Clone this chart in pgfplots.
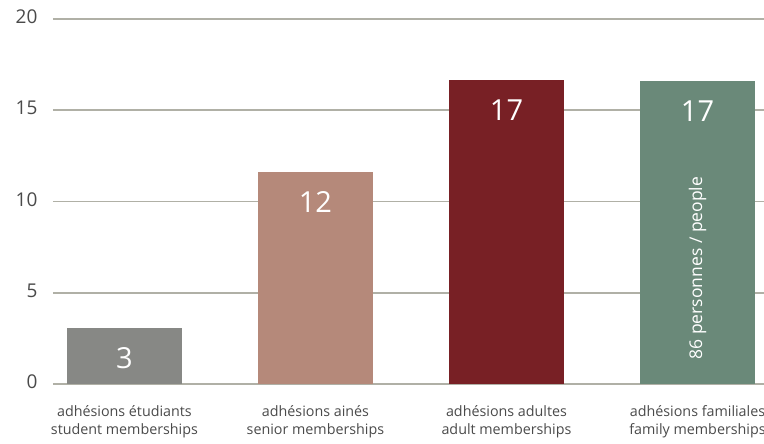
\documentclass[border=0pt]{standalone}
\usepackage{pgfplots}
\pgfplotsset{compat=1.18}
\usepackage{fontspec}
\setmainfont{Open Sans}
\definecolor{grid}{HTML}{B0B0A6}
\definecolor{tick}{HTML}{4A4A4A}
\definecolor{cA}{HTML}{878885}
\definecolor{cB}{HTML}{B5897A}
\definecolor{cC}{HTML}{782025}
\definecolor{cD}{HTML}{6A8979}
\begin{document}
\begin{tikzpicture}
\useasboundingbox (-53pt,-60pt) rectangle (711pt,384pt);
\begin{axis}[
  at={(0,0)}, anchor=south west,
  scale only axis, width=711pt, height=365pt,
  xmin=-0.374, xmax=3.348, ymin=0, ymax=20,
  axis line style={draw=none},
  ytick={0,5,10,15,20},
  xmajorgrids=false, ymajorgrids=true,
  y grid style={grid, line width=1.6pt},
  major tick length=0pt,
  yticklabel style={font=\fontsize{19}{20}\selectfont, text=tick, xshift=-12pt, yshift=2pt},
  /pgf/number format/assume math mode=true,
  xtick={0,1,2,3},
  xticklabels={{adhésions étudiants\\student memberships},{adhésions ainés\\senior memberships},{adhésions adultes\\adult memberships},{adhésions familiales\\family memberships}},
  xticklabel style={font=\fontsize{14.3}{18}\selectfont, text=tick, align=center, yshift=-18pt},
  clip=false,
  ybar, bar width=115pt, bar shift=0pt,
  nodes near coords, point meta=explicit symbolic,
  every node near coord/.style={font=\fontsize{29}{30}\selectfont, text=white, anchor=center, yshift=-30pt},
]
\addplot[fill=cA, draw=none] coordinates {(0,3.06) [3]};
\addplot[fill=cB, draw=none] coordinates {(1,11.64) [12]};
\addplot[fill=cC, draw=none] coordinates {(2,16.67) [17]};
\addplot[fill=cD, draw=none] coordinates {(3,16.62) [17]};
\node[rotate=90, text=white, font=\fontsize{17.5}{18}\selectfont] at (axis cs:3,6.35) {86 personnes / people};
\end{axis}
\end{tikzpicture}
\end{document}
